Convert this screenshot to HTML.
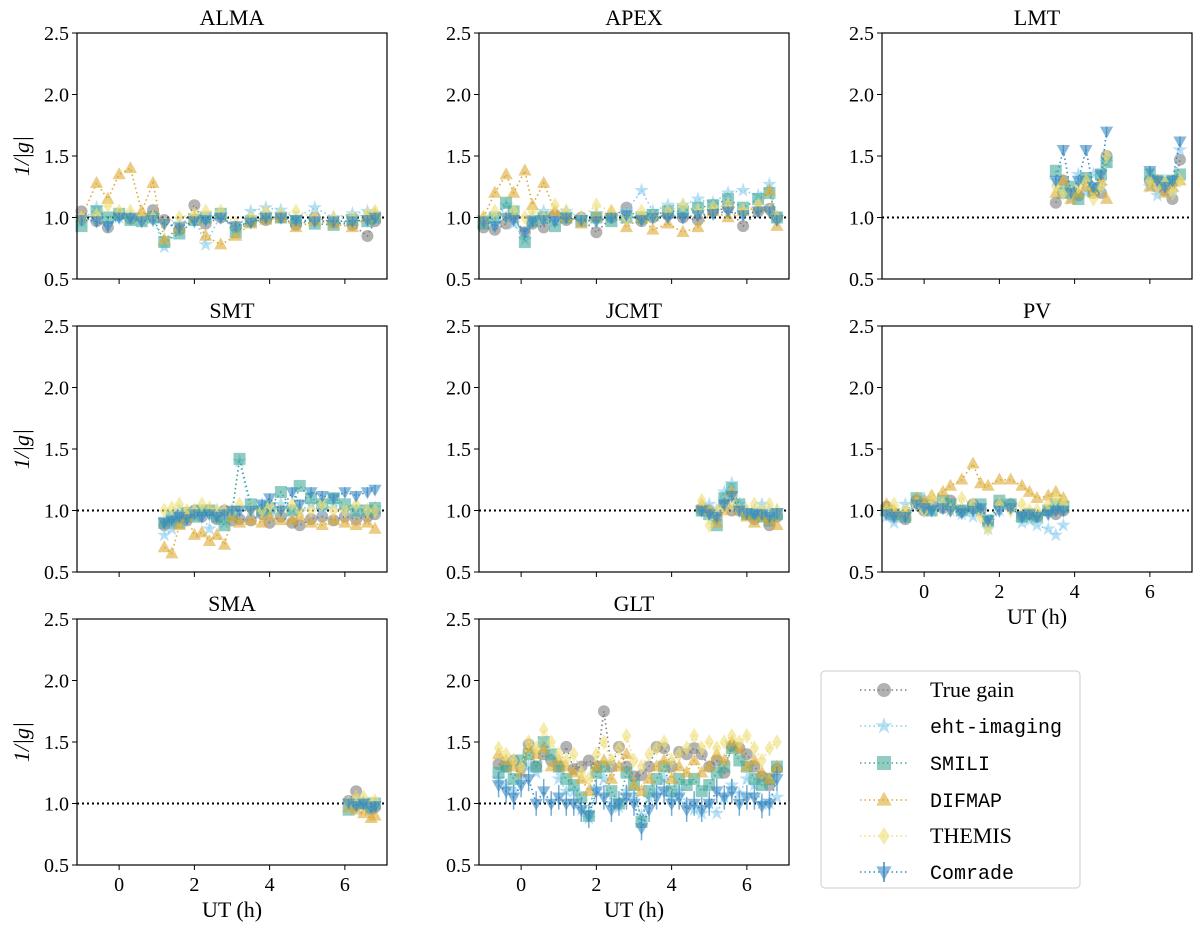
<!DOCTYPE html>
<html><head><meta charset="utf-8"><style>
html,body{margin:0;padding:0;background:#fff;width:1200px;height:933px;overflow:hidden}
svg text{font-family:"Liberation Serif",serif;fill:#000}
svg text.mono{font-family:"Liberation Mono",monospace}
</style></head><body>
<svg id="fig" width="1200" height="933" viewBox="0 0 1200 933" xmlns="http://www.w3.org/2000/svg"></svg>
<script>
// ---- data ----
const stations = ["ALMA","APEX","LMT","SMT","JCMT","PV","SMA","GLT"];
const yTicks = [0.5,1.0,1.5,2.0,2.5];
const xTicks = [0,2,4,6];
const seriesNames = ["True gain","eht-imaging","SMILI","DIFMAP","THEMIS","Comrade"];

const almaT = [-1,-0.6,-0.3,0,0.3,0.6,0.9,1.2,1.6,2.0,2.3,2.7,3.1,3.5,3.9,4.3,4.7,5.2,5.7,6.2,6.6,6.8];
const almaTrue = [1.05,0.97,0.92,1.02,0.99,1.0,1.06,0.98,0.9,1.1,0.95,1.0,0.92,0.97,0.98,1.0,0.94,1.0,0.96,0.94,0.85,0.97];
const almaEht = [0.97,1.08,0.95,1.0,1.02,0.98,1.0,0.76,0.95,1.0,0.78,1.02,0.9,1.05,1.08,1.06,1.0,1.08,1.0,1.03,1.05,1.0];
const almaSmili = [0.93,1.05,1.0,1.03,0.98,0.97,1.0,0.8,0.87,0.98,1.0,1.03,0.88,0.97,1.0,1.0,0.97,0.95,0.94,0.98,0.97,1.0];
const almaDif = [1.0,1.28,1.15,1.35,1.4,1.05,1.28,0.82,0.92,1.0,0.85,0.78,0.85,0.95,0.98,1.0,0.92,0.97,0.95,0.92,1.0,1.03];
const almaThemis = [1.0,1.02,1.1,1.05,1.05,1.0,1.0,0.95,1.0,1.03,1.05,1.05,0.95,1.0,1.05,1.03,1.05,1.0,1.0,1.0,1.03,1.05];
const almaComrade = [0.98,0.97,0.93,1.0,1.0,0.97,0.98,0.95,0.92,0.97,0.98,1.0,0.93,0.96,1.0,1.0,0.98,0.97,0.97,0.97,0.98,1.0];

const apexT = [-1,-0.7,-0.4,-0.2,0.1,0.3,0.6,0.9,1.2,1.6,2.0,2.4,2.8,3.2,3.5,3.9,4.3,4.7,5.1,5.5,5.9,6.3,6.6,6.8];
const apexTrue = [0.92,0.9,0.95,1.0,0.88,0.95,0.92,1.02,0.98,1.0,0.88,1.0,1.08,0.97,1.0,1.02,1.0,0.98,1.05,1.08,0.93,1.05,1.07,1.0];
const apexEht = [1.0,0.95,1.1,0.95,0.82,1.0,1.05,0.97,1.05,1.0,1.03,1.0,1.05,1.22,1.05,1.1,1.1,1.15,1.12,1.2,1.22,1.18,1.27,1.0];
const apexSmili = [0.95,1.0,1.12,1.05,0.8,0.97,1.0,0.93,1.0,0.97,1.0,0.97,1.0,1.0,1.02,1.05,1.05,1.08,1.1,1.15,1.08,1.15,1.2,1.0];
const apexDif = [1.0,1.2,1.35,1.2,1.38,1.1,1.28,1.05,1.0,0.95,1.0,1.05,0.92,1.0,0.9,0.95,0.88,0.92,1.05,1.0,1.05,1.08,1.22,0.93];
const apexThemis = [1.0,1.05,1.0,1.05,1.0,1.05,1.0,1.1,1.05,1.0,1.1,1.05,1.0,1.05,1.0,1.05,1.1,1.05,1.08,1.1,1.05,1.1,1.05,1.0];
const apexComrade = [0.97,0.93,1.0,0.98,0.88,0.97,0.98,0.97,1.0,0.98,0.97,1.0,1.02,0.98,1.0,1.0,1.0,1.02,1.03,1.05,1.02,1.05,1.05,0.98];

const lmtT = [3.5,3.7,3.9,4.1,4.3,4.5,4.7,4.85,6.0,6.2,6.4,6.6,6.8];
const lmtTrue = [1.12,1.3,1.2,1.18,1.3,1.2,1.2,1.5,1.3,1.25,1.22,1.15,1.47];
const lmtEht = [1.3,1.25,1.15,1.35,1.2,1.35,1.25,1.45,1.25,1.18,1.3,1.2,1.55];
const lmtSmili = [1.38,1.2,1.25,1.15,1.32,1.22,1.35,1.45,1.35,1.3,1.28,1.3,1.35];
const lmtDif = [1.2,1.3,1.15,1.2,1.25,1.2,1.3,1.15,1.25,1.3,1.2,1.25,1.3];
const lmtThemis = [1.25,1.2,1.2,1.25,1.3,1.15,1.25,1.5,1.3,1.25,1.28,1.2,1.3];
const lmtComrade = [1.3,1.55,1.2,1.3,1.55,1.25,1.35,1.7,1.38,1.3,1.25,1.3,1.62];

const smtT = [1.2,1.4,1.6,1.8,2.0,2.2,2.4,2.6,2.8,3.0,3.2,3.5,3.8,4.0,4.3,4.6,4.8,5.1,5.4,5.7,6.0,6.3,6.6,6.8];
const smtTrue = [0.88,0.9,0.95,0.92,1.0,0.95,1.0,0.93,1.0,0.92,0.93,0.92,0.97,0.9,0.95,0.9,0.88,0.93,0.95,0.92,0.95,0.93,0.95,0.97];
const smtEht = [0.8,0.85,1.0,0.95,1.0,0.97,0.85,1.0,0.9,1.0,1.4,1.0,1.05,0.95,1.05,1.0,1.0,1.05,1.0,1.05,1.0,1.0,1.0,1.02];
const smtSmili = [0.9,0.95,0.9,0.98,0.95,1.0,1.0,0.95,0.88,0.97,1.42,1.05,1.0,1.02,1.15,1.0,1.2,1.1,1.05,1.1,1.05,1.0,1.0,1.02];
const smtDif = [0.7,0.65,0.88,0.95,0.8,0.82,0.75,0.8,0.72,0.95,0.9,0.92,0.9,0.95,0.92,0.92,0.95,0.9,0.88,0.92,0.9,0.88,0.9,0.85];
const smtThemis = [1.0,1.02,1.05,1.0,1.0,1.05,1.02,1.0,1.0,1.0,1.05,1.0,1.0,1.05,1.0,1.05,1.0,1.0,1.05,1.0,1.0,1.05,1.0,1.0];
const smtComrade = [0.9,0.92,0.95,0.93,0.97,0.95,0.97,0.95,0.97,1.0,1.0,1.0,1.05,1.1,1.0,1.15,1.05,1.15,1.12,1.1,1.15,1.12,1.15,1.17];

const jcmtT = [4.8,5.0,5.2,5.4,5.6,5.8,6.0,6.2,6.4,6.6,6.8];
const jcmtTrue = [1.0,1.0,0.95,1.05,1.0,1.0,0.97,0.93,0.97,0.88,0.95];
const jcmtEht = [1.0,1.05,1.0,1.15,1.22,1.05,1.0,1.0,1.05,1.0,1.0];
const jcmtSmili = [1.0,0.97,0.88,1.1,1.18,1.05,0.97,0.97,0.95,0.92,0.97];
const jcmtDif = [1.05,1.0,0.9,1.0,1.15,1.0,0.95,0.9,0.95,0.92,0.88];
const jcmtThemis = [1.08,0.88,1.0,1.02,1.05,1.0,1.0,1.05,1.0,1.05,1.0];
const jcmtComrade = [1.0,0.97,0.95,1.05,1.12,1.0,0.98,0.97,0.97,0.95,0.98];

const pvT = [-1.0,-0.8,-0.5,-0.2,0.0,0.2,0.5,0.7,1.0,1.3,1.5,1.7,2.0,2.3,2.6,2.8,3.0,3.3,3.5,3.7];
const pvTrue = [1.03,0.95,0.93,1.08,1.0,1.05,1.02,1.08,1.0,1.05,1.0,0.9,1.05,1.05,0.95,0.97,0.95,1.0,0.97,1.0];
const pvEht = [0.95,0.9,1.05,1.05,1.1,1.0,1.05,1.0,0.97,0.95,1.0,0.85,1.0,1.05,0.9,0.92,0.88,0.85,0.8,0.88];
const pvSmili = [1.0,0.97,0.95,1.1,1.05,1.0,1.08,1.05,1.0,1.02,1.05,0.92,1.08,1.05,0.95,0.97,0.95,1.0,1.05,1.03];
const pvDif = [1.05,1.0,0.98,1.1,1.08,1.12,1.15,1.2,1.25,1.38,1.22,1.2,1.25,1.25,1.2,1.15,1.1,1.12,1.15,1.1];
const pvThemis = [1.0,1.05,1.0,1.05,1.0,1.1,1.05,1.0,1.1,1.05,0.95,0.85,1.05,1.0,1.05,1.0,1.0,1.05,1.1,1.05];
const pvComrade = [0.97,0.95,0.95,1.05,1.02,1.0,1.02,1.0,0.98,1.0,1.02,0.92,1.0,1.02,0.95,0.97,0.95,0.97,1.0,1.0];

const smaT = [6.1,6.3,6.5,6.7,6.8];
const smaTrue = [1.02,1.1,1.0,0.95,0.97];
const smaEht = [0.98,1.0,1.02,0.98,1.0];
const smaSmili = [0.95,1.0,1.0,0.97,1.0];
const smaDif = [0.97,0.95,0.92,0.88,0.9];
const smaThemis = [1.0,1.05,1.05,1.0,1.02];
const smaComrade = [1.0,0.98,1.0,0.97,0.98];

const gltT = [-0.6,-0.4,-0.2,0.0,0.2,0.4,0.6,0.8,1.0,1.2,1.4,1.6,1.8,2.0,2.2,2.4,2.6,2.8,3.0,3.2,3.4,3.6,3.8,4.0,4.2,4.4,4.6,4.8,5.0,5.2,5.4,5.6,5.8,6.0,6.2,6.4,6.6,6.8];
const gltTrue = [1.32,1.3,1.35,1.3,1.48,1.3,1.4,1.35,1.3,1.46,1.28,1.3,1.35,1.3,1.75,1.3,1.46,1.3,1.22,1.23,1.3,1.46,1.45,1.3,1.42,1.4,1.45,1.4,1.3,1.35,1.25,1.47,1.45,1.4,1.3,1.22,1.15,1.28];
const gltEht = [1.2,1.15,1.1,1.22,1.3,1.25,1.45,1.35,1.2,1.1,1.1,0.95,0.88,1.1,1.2,1.0,0.97,1.1,1.05,0.9,1.05,1.1,1.2,1.05,1.1,1.0,0.95,0.92,1.0,0.92,1.05,1.15,1.08,1.2,1.15,1.0,1.0,1.05];
const gltSmili = [1.25,1.3,1.2,1.35,1.4,1.3,1.5,1.4,1.3,1.2,1.15,1.05,0.9,1.25,1.3,1.1,1.0,1.25,1.15,0.85,1.1,1.2,1.3,1.1,1.2,1.15,1.2,1.1,1.15,1.25,1.3,1.45,1.35,1.3,1.2,1.15,1.2,1.3];
const gltDif = [1.4,1.35,1.3,1.25,1.45,1.4,1.45,1.3,1.35,1.3,1.25,1.2,1.1,1.3,1.35,1.2,1.3,1.4,1.15,1.1,1.2,1.3,1.35,1.2,1.3,1.25,1.35,1.25,1.3,1.4,1.35,1.5,1.45,1.3,1.35,1.25,1.2,1.3];
const gltThemis = [1.45,1.4,1.35,1.3,1.5,1.45,1.6,1.5,1.4,1.35,1.4,1.25,1.2,1.4,1.5,1.35,1.45,1.55,1.35,1.3,1.4,1.45,1.5,1.35,1.4,1.45,1.55,1.45,1.5,1.45,1.5,1.55,1.5,1.55,1.45,1.35,1.45,1.5];
const gltComrade = [1.15,1.1,1.05,1.15,1.2,1.0,1.1,1.0,1.05,1.0,1.0,0.95,0.9,1.1,1.05,0.95,1.0,1.05,1.0,0.8,0.95,1.05,1.1,1.0,1.05,0.95,1.0,0.95,1.0,1.1,1.05,1.1,1.0,1.05,1.05,0.98,1.0,1.2];

const stationData = {
  ALMA:[almaT,almaTrue,almaEht,almaSmili,almaDif,almaThemis,almaComrade],
  APEX:[apexT,apexTrue,apexEht,apexSmili,apexDif,apexThemis,apexComrade],
  LMT:[lmtT,lmtTrue,lmtEht,lmtSmili,lmtDif,lmtThemis,lmtComrade],
  SMT:[smtT,smtTrue,smtEht,smtSmili,smtDif,smtThemis,smtComrade],
  JCMT:[jcmtT,jcmtTrue,jcmtEht,jcmtSmili,jcmtDif,jcmtThemis,jcmtComrade],
  PV:[pvT,pvTrue,pvEht,pvSmili,pvDif,pvThemis,pvComrade],
  SMA:[smaT,smaTrue,smaEht,smaSmili,smaDif,smaThemis,smaComrade],
  GLT:[gltT,gltTrue,gltEht,gltSmili,gltDif,gltThemis,gltComrade]
};

// ---- layout ----
const NS="http://www.w3.org/2000/svg";
const svg=document.getElementById('fig');
function mk(tag,attrs,parent){const e=document.createElementNS(NS,tag);for(const k in attrs)e.setAttribute(k,attrs[k]);(parent||svg).appendChild(e);return e;}
const colLeft=[77,479,882], W=310;
const rowTop=[33,326,619], H=246;
const XMIN=-1.12, XMAX=7.12, YMIN=0.5, YMAX=2.5;
const colors=["#7f7f7f","#88ccee","#44aa99","#ddaa33","#eedd77","#3b8bc2"];
const shapes=["circle","star","square","tri","diamond","tridown"];

function marker(g,shape,x,y,c,s){
  let e;
  if(shape==="circle") e=mk('circle',{cx:x,cy:y,r:s},g);
  else if(shape==="square") e=mk('rect',{x:x-s,y:y-s,width:2*s,height:2*s},g);
  else if(shape==="tri") e=mk('polygon',{points:`${x},${y-s*1.2} ${x-s*1.1},${y+s*0.8} ${x+s*1.1},${y+s*0.8}`},g);
  else if(shape==="tridown") e=mk('polygon',{points:`${x},${y+s*1.2} ${x-s*1.1},${y-s*0.8} ${x+s*1.1},${y-s*0.8}`},g);
  else if(shape==="diamond") e=mk('polygon',{points:`${x},${y-s*1.3} ${x-s*0.8},${y} ${x},${y+s*1.3} ${x+s*0.8},${y}`},g);
  else { let p=[];for(let i=0;i<10;i++){const r=i%2?s*0.5:s*1.3;const a=-Math.PI/2+i*Math.PI/5;p.push((x+r*Math.cos(a)).toFixed(1)+','+(y+r*Math.sin(a)).toFixed(1));} e=mk('polygon',{points:p.join(' ')},g);}
  e.setAttribute('fill',c);e.setAttribute('fill-opacity','0.6');
  return e;
}

stations.forEach((st,idx)=>{
  const col=idx%3,row=Math.floor(idx/3);
  const L=colLeft[col],T=rowTop[row];
  const sx=v=>L+(v-XMIN)/(XMAX-XMIN)*W;
  const sy=v=>T+H-(v-YMIN)/(YMAX-YMIN)*H;
  const g=mk('g',{});
  
  
  const t=mk('text',{x:L+W/2,y:T-8,'text-anchor':'middle','font-size':22},g);t.textContent=st;
  
  yTicks.forEach(v=>{mk('line',{x1:L-5,x2:L,y1:sy(v),y2:sy(v),stroke:'#000'},g);
    const tl=mk('text',{x:L-8,y:sy(v)+7,'text-anchor':'end','font-size':20},g);tl.textContent=v.toFixed(1);
    });
  const bottom = (row===2)||(idx===5);
  xTicks.forEach(v=>{mk('line',{x1:sx(v),x2:sx(v),y1:T+H,y2:T+H+5,stroke:'#000'},g);
    if(bottom){const tl=mk('text',{x:sx(v),y:T+H+26,'text-anchor':'middle','font-size':20},g);tl.textContent=v;
      }});
  if(bottom){const xl=mk('text',{x:L+W/2,y:T+H+52,'text-anchor':'middle','font-size':22},g);xl.textContent='UT (h)';
    }
  if(col===0){const yl=mk('text',{transform:`translate(${L-48},${T+H/2}) rotate(-90)`,'text-anchor':'middle','font-size':22},g);yl.textContent='1/|g|';
    yl.setAttribute('font-style','italic');
    }
  mk('line',{x1:L,x2:L+W,y1:sy(1),y2:sy(1),stroke:'#000','stroke-width':2,'stroke-dasharray':'2,3'},g);
  const d=stationData[st]; const ts=d[0];
  [1,2,3,4,5,6].forEach(si=>{
    const vals=d[si],c=colors[si-1];
    const sg=mk('g',{},g);
    
    
    let pts=[];
    for(let i=0;i<ts.length;i++){ if(vals[i]==null) continue;
      if(i>0 && ts[i]-ts[i-1]>0.8 && pts.length){mk('polyline',{points:pts.join(' '),fill:'none',stroke:c,'stroke-width':1.6,'stroke-dasharray':'1.5,3'},sg);pts=[];}
      pts.push(sx(ts[i]).toFixed(1)+','+sy(vals[i]).toFixed(1));}
    if(pts.length) mk('polyline',{points:pts.join(' '),fill:'none',stroke:c,'stroke-width':1.6,'stroke-dasharray':'1.5,3'},sg);
    const eb = st==="GLT"?0.1:0.04;
    for(let i=0;i<ts.length;i++){ if(vals[i]==null) continue;
      if(si===6) mk('line',{x1:sx(ts[i]),x2:sx(ts[i]),y1:sy(vals[i]-eb),y2:sy(vals[i]+eb),stroke:c,'stroke-width':1.5,'stroke-opacity':0.7},sg);
      const m=marker(sg,shapes[si-1],sx(ts[i]),sy(vals[i]),c,6);
      
      
    }
  });
  mk('rect',{x:L,y:T,width:W,height:H,fill:'none',stroke:'#000','stroke-width':1.2},g);
});

// legend
const lg=mk('g',{});


mk('rect',{x:821,y:671,width:259,height:217,rx:4,fill:'#fff',stroke:'#ccc'},lg);
const legendY=[690,726,763,800,836,872];
seriesNames.forEach((n,i)=>{
  const y=legendY[i],c=colors[i];
  const eg=mk('g',{},lg);
  
  
  mk('line',{x1:860,x2:908,y1:y,y2:y,stroke:c,'stroke-width':1.6,'stroke-dasharray':'1.5,3'},eg);
  if(i===5) mk('line',{x1:884,x2:884,y1:y-10,y2:y+10,stroke:c,'stroke-width':1.5},eg);
  marker(eg,shapes[i],884,y,c,7);
  const tx=mk('text',{x:930,y:y+7,'font-size':22},eg);
  tx.textContent=n;
  if(i===1||i===2||i===3||i===5){tx.setAttribute('class','mono');tx.setAttribute('font-size','20');}
});
</script>
</body></html>
